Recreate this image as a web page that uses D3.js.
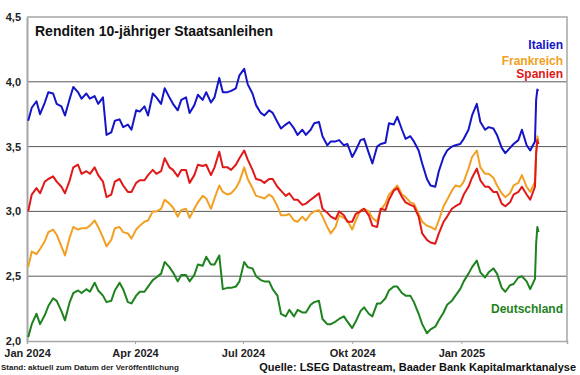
<!DOCTYPE html>
<html>
<head>
<meta charset="utf-8">
<script src="https://cdn.jsdelivr.net/npm/d3@7"></script>
<style>
  body { margin: 0; background: #fff; }
  text { font-family: "Liberation Sans", Arial, sans-serif; font-weight: bold; }
</style>
</head>
<body>
<svg id="chart"></svg>
<script>
const width = 580, height = 375;

// Stichtage (Di/Fr)
const dates = [
  "2024-01-02","2024-01-05","2024-01-09","2024-01-12","2024-01-16","2024-01-19","2024-01-23","2024-01-26","2024-01-30",
  "2024-02-02","2024-02-06","2024-02-09","2024-02-13","2024-02-16","2024-02-20","2024-02-23","2024-02-27",
  "2024-03-01","2024-03-05","2024-03-08","2024-03-12","2024-03-15","2024-03-19","2024-03-22","2024-03-26","2024-03-29",
  "2024-04-02","2024-04-05","2024-04-09","2024-04-12","2024-04-16","2024-04-19","2024-04-23","2024-04-26","2024-04-30",
  "2024-05-03","2024-05-07","2024-05-10","2024-05-14","2024-05-17","2024-05-21","2024-05-24","2024-05-28","2024-05-31",
  "2024-06-04","2024-06-07","2024-06-11","2024-06-14","2024-06-18","2024-06-21","2024-06-25","2024-06-28",
  "2024-07-02","2024-07-05","2024-07-09","2024-07-12","2024-07-16","2024-07-19","2024-07-23","2024-07-26","2024-07-30",
  "2024-08-02","2024-08-06","2024-08-09","2024-08-13","2024-08-16","2024-08-20","2024-08-23","2024-08-27","2024-08-30",
  "2024-09-03","2024-09-06","2024-09-10","2024-09-13","2024-09-17","2024-09-20","2024-09-24","2024-09-27",
  "2024-10-01","2024-10-04","2024-10-08","2024-10-11","2024-10-15","2024-10-18","2024-10-22","2024-10-25","2024-10-29",
  "2024-11-01","2024-11-05","2024-11-08","2024-11-12","2024-11-15","2024-11-19","2024-11-22","2024-11-26","2024-11-29",
  "2024-12-03","2024-12-06","2024-12-10","2024-12-13","2024-12-17","2024-12-20","2024-12-24","2024-12-27","2024-12-31",
  "2025-01-03","2025-01-07","2025-01-10","2025-01-14","2025-01-17","2025-01-21","2025-01-24","2025-01-28","2025-01-31",
  "2025-02-04","2025-02-07","2025-02-11","2025-02-14","2025-02-18","2025-02-21","2025-02-25","2025-02-28",
  "2025-03-04","2025-03-05","2025-03-06","2025-03-07"
];

const italien = [
  3.70,3.80,3.85,3.75,3.84,3.92,3.91,3.83,3.81,
  3.74,3.87,3.96,3.92,3.87,3.91,3.87,3.89,
  3.83,3.88,3.59,3.61,3.70,3.71,3.65,3.67,3.63,
  3.78,3.77,3.81,3.74,3.91,3.88,3.83,3.95,3.88,
  3.83,3.78,3.86,3.88,3.76,3.82,3.90,3.86,3.92,
  3.84,3.88,4.03,3.92,3.92,3.93,3.95,4.05,
  4.10,3.98,3.91,3.82,3.76,3.74,3.78,3.76,3.69,
  3.64,3.67,3.69,3.64,3.59,3.63,3.59,3.63,3.68,
  3.69,3.58,3.51,3.54,3.54,3.55,3.51,3.52,
  3.42,3.47,3.55,3.56,3.45,3.37,3.50,3.52,3.53,
  3.68,3.67,3.73,3.63,3.56,3.58,3.54,3.47,3.37,
  3.25,3.20,3.19,3.31,3.42,3.47,3.50,3.51,3.52,
  3.56,3.63,3.74,3.83,3.69,3.63,3.65,3.64,3.59,
  3.49,3.45,3.49,3.52,3.55,3.63,3.51,3.47,
  3.54,3.86,3.94,3.93
];

const frankreich = [
  2.57,2.69,2.67,2.71,2.77,2.84,2.86,2.82,2.73,
  2.66,2.80,2.88,2.86,2.87,2.87,2.89,2.93,
  2.88,2.80,2.73,2.78,2.87,2.88,2.84,2.83,2.79,
  2.86,2.89,2.92,2.93,3.00,3.00,3.02,3.09,3.06,
  3.03,2.96,3.01,3.02,2.95,3.02,3.07,3.12,3.10,
  3.02,3.10,3.20,3.15,3.13,3.14,3.18,3.23,
  3.34,3.25,3.18,3.12,3.11,3.10,3.13,3.11,3.04,
  2.97,2.97,2.98,2.93,2.92,2.96,2.93,2.98,3.00,
  3.01,2.96,2.88,2.83,2.88,2.97,2.95,2.93,
  2.86,2.93,3.01,3.02,3.00,2.95,2.92,3.01,3.06,
  3.13,3.17,3.20,3.13,3.11,3.07,3.06,2.98,2.92,
  2.89,2.88,2.86,2.93,3.04,3.09,3.16,3.20,3.19,
  3.23,3.33,3.42,3.47,3.34,3.29,3.29,3.26,3.20,
  3.14,3.11,3.14,3.20,3.22,3.28,3.19,3.15,
  3.23,3.45,3.58,3.55
];

const spanien = [
  3.00,3.13,3.18,3.14,3.23,3.25,3.27,3.23,3.19,
  3.14,3.24,3.34,3.36,3.29,3.31,3.29,3.34,
  3.28,3.23,3.11,3.13,3.23,3.25,3.20,3.15,3.15,
  3.22,3.24,3.24,3.28,3.32,3.29,3.31,3.41,3.34,
  3.32,3.27,3.32,3.32,3.22,3.28,3.36,3.35,3.36,
  3.28,3.34,3.46,3.34,3.34,3.32,3.36,3.41,
  3.47,3.40,3.32,3.25,3.24,3.22,3.25,3.25,3.19,
  3.16,3.12,3.14,3.09,3.09,3.05,3.06,3.09,3.11,
  3.14,3.02,2.99,2.96,2.94,3.00,2.97,2.92,
  2.92,2.98,3.00,3.02,2.97,2.89,2.88,3.02,3.01,
  3.09,3.16,3.18,3.11,3.07,3.05,3.04,2.96,2.83,
  2.78,2.76,2.75,2.83,2.92,2.96,3.02,3.04,3.06,
  3.13,3.19,3.26,3.33,3.24,3.19,3.19,3.15,3.15,
  3.06,3.04,3.07,3.13,3.15,3.19,3.13,3.09,
  3.19,3.45,3.55,3.52
];

const deutschland = [
  2.03,2.13,2.21,2.13,2.20,2.27,2.33,2.31,2.23,
  2.16,2.30,2.37,2.39,2.37,2.40,2.38,2.45,
  2.39,2.35,2.30,2.31,2.39,2.45,2.40,2.30,2.29,
  2.35,2.38,2.38,2.42,2.47,2.49,2.52,2.61,2.57,
  2.53,2.46,2.51,2.51,2.46,2.51,2.59,2.58,2.65,
  2.59,2.59,2.66,2.40,2.41,2.41,2.42,2.46,
  2.61,2.57,2.56,2.50,2.47,2.46,2.46,2.40,2.35,
  2.21,2.19,2.24,2.19,2.24,2.22,2.22,2.28,2.30,
  2.31,2.17,2.13,2.13,2.15,2.17,2.19,2.15,
  2.10,2.15,2.23,2.26,2.21,2.19,2.29,2.29,2.33,
  2.39,2.42,2.42,2.37,2.35,2.35,2.30,2.21,2.13,
  2.06,2.09,2.11,2.16,2.22,2.28,2.31,2.35,2.40,
  2.46,2.52,2.57,2.62,2.53,2.49,2.53,2.56,2.52,
  2.41,2.38,2.43,2.44,2.49,2.50,2.46,2.40,
  2.48,2.75,2.88,2.84
];

const xTicks = ["2024-01-01","2024-04-01","2024-07-01","2024-10-01","2025-01-01"];
const xTickLabels = ["Jan 2024","Apr 2024","Jul 2024","Okt 2024","Jan 2025"];
const yTicks = [2.0, 2.5, 3.0, 3.5, 4.0, 4.5];

const parse = d3.timeParse("%Y-%m-%d");
const margin = {top: 17, right: 13, bottom: 34, left: 27};

const svg = d3.select("#chart")
  .attr("width", width)
  .attr("height", height);

const x = d3.scaleTime()
  .domain([parse("2024-01-01"), parse("2025-03-31")])
  .range([margin.left, width - margin.right]);

const y = d3.scaleLinear()
  .domain([2, 4.5])
  .range([height - margin.bottom, margin.top]);

// Gitternetz
svg.append("g")
  .selectAll("line")
  .data(yTicks.filter(d => d > 2 && d < 4.5))
  .join("line")
  .attr("x1", margin.left)
  .attr("x2", width - margin.right)
  .attr("y1", d => y(d))
  .attr("y2", d => y(d))
  .attr("stroke", "#5a5a5a")
  .attr("stroke-width", 1);

// Rahmen oben / rechts
svg.append("path")
  .attr("d", `M${margin.left},${margin.top}H${width - margin.right}V${height - margin.bottom}`)
  .attr("fill", "none")
  .attr("stroke", "#a6a6a6")
  .attr("stroke-width", 1.5);

// y-Achse
const yAxis = d3.axisLeft(y)
  .tickValues(yTicks)
  .tickSize(0)
  .tickPadding(6)
  .tickFormat(d => d3.format(".1f")(d).replace(".", ","));

svg.append("g")
  .attr("transform", `translate(${margin.left},0)`)
  .call(yAxis)
  .call(g => g.select(".domain").attr("stroke", "#a6a6a6").attr("stroke-width", 2))
  .call(g => g.selectAll("text").attr("fill", "#222").style("font-size", "11px"));

// x-Achse
const xAxis = d3.axisBottom(x)
  .tickValues(xTicks.map(parse))
  .tickSize(3)
  .tickPadding(5)
  .tickFormat((d, i) => xTickLabels[i]);

svg.append("g")
  .attr("transform", `translate(0,${height - margin.bottom})`)
  .call(xAxis)
  .call(g => g.select(".domain").attr("stroke", "#a6a6a6").attr("stroke-width", 1.5))
  .call(g => g.selectAll(".tick line").attr("stroke", "#a6a6a6"))
  .call(g => g.selectAll("text").attr("fill", "#222").style("font-size", "11px"));

const series = [
  {name: "Italien", values: italien, color: "#1515c8", ly: 49},
  {name: "Frankreich", values: frankreich, color: "#f2a023", ly: 65},
  {name: "Spanien", values: spanien, color: "#e01818", ly: 78},
  {name: "Deutschland", values: deutschland, color: "#1e821e", ly: 313}
];

const line = d3.line()
  .x((d, i) => x(parse(dates[i])))
  .y(d => y(d));

svg.append("g")
  .selectAll("path")
  .data(series)
  .join("path")
  .attr("d", d => line(d.values))
  .attr("fill", "none")
  .attr("stroke", d => d.color)
  .attr("stroke-width", 2)
  .attr("stroke-linejoin", "round");

// Beschriftungen der Länder
svg.append("g")
  .selectAll("text")
  .data(series)
  .join("text")
  .attr("x", 563)
  .attr("y", d => d.ly)
  .attr("text-anchor", "end")
  .attr("fill", d => d.color)
  .style("font-size", "12px")
  .text(d => d.name);

svg.append("text")
  .attr("x", 35)
  .attr("y", 36)
  .style("font-size", "14px")
  .attr("fill", "#111")
  .text("Renditen 10-jähriger Staatsanleihen");

svg.append("text")
  .attr("x", 1)
  .attr("y", 370)
  .style("font-size", "8px")
  .attr("fill", "#222")
  .text("Stand: aktuell zum Datum der Veröffentlichung");

svg.append("text")
  .attr("x", 576)
  .attr("y", 371)
  .attr("text-anchor", "end")
  .style("font-size", "11px")
  .attr("fill", "#111")
  .text("Quelle: LSEG Datastream, Baader Bank Kapitalmarktanalyse");
</script>
</body>
</html>
